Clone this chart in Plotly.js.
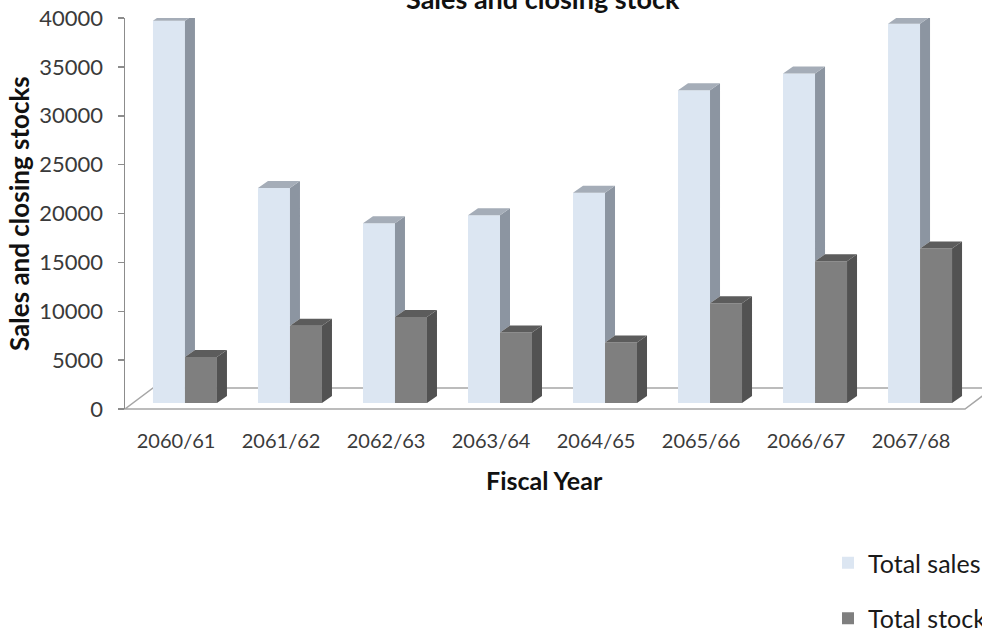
<!DOCTYPE html>
<html>
<head>
<meta charset="utf-8">
<script src="https://cdn.plot.ly/plotly-3.0.1.min.js"></script>
<style>html,body{margin:0;padding:0;background:#fff;}#chart{width:982px;height:634px;}</style>
</head>
<body>
<div id="chart"></div>
<script>
// ---- data ----
const categories = ['2060/61', '2061/62', '2062/63', '2063/64', '2064/65', '2065/66', '2066/67', '2067/68'];
const totalSales = [39100, 22000, 18400, 19200, 21500, 32000, 33700, 38800];
const totalStock = [4700, 7900, 8800, 7200, 6200, 10200, 14500, 15800];
const seriesNames = ['Total sales', 'Total stock'];
const yTickVals = [0, 5000, 10000, 15000, 20000, 25000, 30000, 35000, 40000];

// ---- geometry (plot px → data) ----
const W = 982, H = 634;
const mL = 125, mR = 0, mT = 18, mB = 225;
const plotW = W - mL - mR, plotH = H - mT - mB;
const xRange = [-0.571, 7.59];
const pxPerX = plotW / (xRange[1] - xRange[0]);
const yMax = 40000;
const pxPerY = plotH / yMax;
const lift = 6 / pxPerY;             // bars stand a little behind the front floor edge
const barW = 32 / pxPerX;
const depthX = 10 / pxPerX;
const depthY = 7 / pxPerY;
const idx = categories.map((_, i) => i);

function px2paperX(p) { return (p - mL) / plotW; }
function px2paperY(p) { return (mT + plotH - p) / plotH; }

// polygons for 3D faces (computed from data)
function poly(list) {
  const xs = [], ys = [];
  list.forEach(pts => { pts.forEach(p => { xs.push(p[0]); ys.push(p[1] + lift); }); xs.push(null); ys.push(null); });
  return {x: xs, y: ys};
}
const salesSide = poly(idx.map(i => {
  const x1 = i, s = totalStock[i], v = totalSales[i];
  return [[x1, s], [x1 + depthX, s + depthY], [x1 + depthX, v + depthY], [x1, v], [x1, s]];
}));
const salesTop = poly(idx.map(i => {
  const x0 = i - barW, x1 = i, v = totalSales[i];
  return [[x0, v], [x0 + depthX, v + depthY], [x1 + depthX, v + depthY], [x1, v], [x0, v]];
}));
const stockSide = poly(idx.map(i => {
  const x1 = i + barW, s = totalStock[i];
  return [[x1, 0], [x1 + depthX, depthY], [x1 + depthX, s + depthY], [x1, s], [x1, 0]];
}));
const stockTop = poly(idx.map(i => {
  const x0 = i, x1 = i + barW, s = totalStock[i];
  return [[x0, s], [x0 + depthX, s + depthY], [x1 + depthX, s + depthY], [x1, s], [x0, s]];
}));

const C = {
  salesFront: '#DCE6F2', salesSide: '#8C95A1', salesTop: '#A5ADB8',
  stockFront: '#7F7F7F', stockSide: '#525252', stockTop: '#5C5C5C',
  axis: '#8C8C8C'
};
const FONT = 'Lato, "Open Sans", "DejaVu Sans", sans-serif';

function face(d, color) {
  return {type: 'scatter', mode: 'lines', x: d.x, y: d.y, fill: 'toself',
    fillcolor: color, line: {width: 0, color: color}, hoverinfo: 'skip', showlegend: false};
}

const traces = [
  {type: 'bar', name: seriesNames[0], x: idx, y: totalSales, base: lift, width: barW, offset: -barW,
   marker: {color: C.salesFront, line: {width: 0}}, legendgroup: 'a'},
  {type: 'bar', name: seriesNames[1], x: idx, y: totalStock, base: lift, width: barW, offset: 0,
   marker: {color: C.stockFront, line: {width: 0}}, legendgroup: 'b'},
  face(salesSide, C.salesSide),
  face(salesTop, C.salesTop),
  face(stockSide, C.stockSide),
  face(stockTop, C.stockTop)
];

const floorPath = 'M ' + px2paperX(125) + ',' + px2paperY(409) +
  ' L ' + px2paperX(965) + ',' + px2paperY(409) +
  ' L ' + px2paperX(993) + ',' + px2paperY(388) +
  ' L ' + px2paperX(153) + ',' + px2paperY(388) + ' Z';

const layout = {
  width: W, height: H, autosize: false,
  margin: {l: mL, r: mR, t: mT, b: mB, pad: 0, autoexpand: false},
  paper_bgcolor: '#ffffff', plot_bgcolor: 'rgba(0,0,0,0)',
  font: {family: FONT, color: '#333333'},
  showlegend: true,
  barmode: 'overlay',
  xaxis: {
    type: 'linear', range: xRange, fixedrange: true, automargin: false,
    tickmode: 'array', tickvals: idx.map(i => i - 0.085), ticktext: categories,
    showline: false, showgrid: false, zeroline: false, ticks: '',
    tickfont: {family: FONT, size: 20, color: '#3a3a3a'}, ticklabelstandoff: 18
  },
  yaxis: {
    range: [0, yMax], tickmode: 'array', tickvals: yTickVals, ticktext: yTickVals.map(String),
    showline: true, linecolor: C.axis, linewidth: 1.5, ticks: 'outside', ticklen: 6,
    tickcolor: C.axis, tickwidth: 1.5, showgrid: false, zeroline: false, fixedrange: true, automargin: false,
    tickfont: {family: FONT, size: 22, color: '#3a3a3a'}, ticklabelstandoff: 10
  },
  shapes: [
    {type: 'path', xref: 'paper', yref: 'paper', path: floorPath, layer: 'below',
     fillcolor: '#ffffff', line: {color: '#A6A6A6', width: 1.5}}
  ],
  legend: {
    x: px2paperX(828), y: px2paperY(540), xanchor: 'left', yanchor: 'top',
    font: {family: FONT, size: 25, color: '#1a1a1a'}, tracegroupgap: 20,
    bgcolor: 'rgba(0,0,0,0)', traceorder: 'grouped'
  },
  annotations: [
    {text: '<b>Sales and closing stock</b>', xref: 'paper', yref: 'paper',
     x: px2paperX(543), y: px2paperY(-1), xanchor: 'center', yanchor: 'middle', showarrow: false,
     font: {family: FONT, size: 27, color: '#111111'}},
    {text: '<b>Sales and closing stocks</b>', xref: 'paper', yref: 'paper', textangle: -90,
     x: px2paperX(19), y: px2paperY(214), xanchor: 'center', yanchor: 'middle', showarrow: false,
     font: {family: FONT, size: 26, color: '#111111'}},
    {text: '<b>Fiscal Year</b>', xref: 'paper', yref: 'paper',
     x: px2paperX(544), y: px2paperY(480), xanchor: 'center', yanchor: 'middle', showarrow: false,
     font: {family: FONT, size: 25, color: '#111111'}}
  ]
};

Plotly.newPlot('chart', traces, layout, {displayModeBar: false, staticPlot: true});
</script>
</body>
</html>
